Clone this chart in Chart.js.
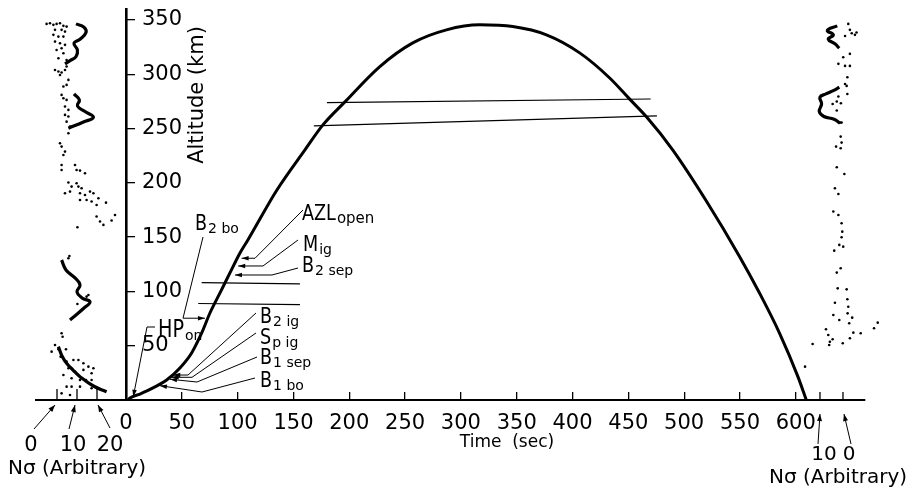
<!DOCTYPE html>
<html><head><meta charset="utf-8">
<script src="https://cdn.jsdelivr.net/npm/chart.js@4.4.0/dist/chart.umd.min.js"></script>
<style>html,body{margin:0;padding:0;background:#fff}canvas{display:block}</style>
</head><body>
<canvas id="c" width="912" height="491"></canvas>
<script>
// ---------- data ----------
const timeTicks = [0,50,100,150,200,250,300,350,400,450,500,550,600];
const altTicks = [50,100,150,200,250,300,350];
const leftNTicks = [0,10,20];
const rightNTicks = [10,0];

// rocket trajectory: time (s), altitude (km)
const trajTime = [2,3.6,12.5,24.2,36.4,48.3,58.8,67.8,75.2,84.2,93.1,102.1,109.2,135.2,160.3,176.4,196.1,227.4,256.9,287.1,316.9,346.5,376.6,406.4,433.3,451.2,466.4,489.7,520,549.7,567.6,585.5,601.9,609.4];
const trajAlt  = [0,1.8,5.5,11.1,18.4,29.5,43.3,61.7,80.1,98.6,117,135.4,147.4,193.4,230.3,253.3,274.5,307,328.8,340.8,345.4,343.8,336.2,319.6,296.5,277,260.5,230.3,183,132,98.3,61.4,21.5,0];

// thin reference lines [time, altitude]
const refLineUpper = [[180,273.8],[470,277.2]];
const refLineLower = [[168.3,252.4],[475.6,261.6]];
const refLine108 = [[67.8,108.1],[155.8,106.9]];
const refLine88 = [[64.7,88.9],[155.8,87.8]];

// ascent Nσ profile [N, altitude]
const leftDots = [[-5.2,346.3],[-3.5,346.9],[-1.8,345.4],[-0.2,346.3],[1.5,346.9],[3.2,344.5],[4.8,343.8],[-1.0,340.8],[2.3,340.8],[4.0,339.2],[-1.8,336.2],[0.7,334.6],[3.2,334.6],[-1.0,330],[1.5,328.5],[4.0,327],[-0.2,322.3],[2.3,323.9],[3.2,319.3],[0.7,314.7],[4.8,313.1],[-1.0,303.9],[0.7,302.4],[2.3,301.5],[4.0,303.9],[4.8,307],[1.5,299.3],[5.7,294.7],[3.2,288.6],[4.8,290.1],[2.3,280.9],[3.2,277.8],[4.8,276.3],[4.0,270.2],[5.7,267.1],[4.0,262.5],[5.7,261],[4.8,256.3],[6.5,251.7],[5.7,245.6],[1.5,236.4],[2.3,233.3],[4.0,228.7],[3.2,225.6],[2.3,216.4],[2.3,211.8],[9.0,216.4],[9.8,211.8],[11.5,211.2],[14.0,208.8],[5.7,200.2],[7.3,196.5],[6.5,191.9],[9.8,199.6],[10.7,196.5],[12.3,195],[4.0,190.3],[11.5,190.3],[14.0,188.8],[16.5,191.9],[18.2,190.3],[11.5,184.2],[14.8,184.2],[17.3,182.7],[20.7,185.7],[19.8,179.6],[24.5,181.7],[19.8,168.9],[21.5,164.3],[23.2,161.2],[27.3,165.2],[29.0,170.4],[10.2,159],[6.2,132.6],[5.7,130.5],[15.7,96.7],[14.8,95.2],[10.2,88.4],[2.3,61.4],[2.8,58.3],[-1.0,50.6],[0.7,46.7],[4.5,46.7],[-2.7,44.5],[1.8,39.9],[4.8,35.3],[8.2,36.8],[10.7,36.8],[13.2,33.8],[15.7,30.7],[13.2,27.7],[18.2,29.2],[17.3,24.6],[5.7,29.2],[9.0,26.1],[3.2,23.0],[7.3,20.0],[11.5,18.4],[14.5,18.4],[17.3,18.4],[4.8,12.3],[7.3,12.3],[11.5,12.3],[17.3,10.8],[2.3,6.1],[6.5,4.6]];
const leftCurve1 = [[9.5,346.3],[13.5,343.2],[14.5,338.3],[11.5,332.2],[8.5,328.5],[10.2,322.3],[9.5,316.2],[6.5,312.5],[4.0,309.5]];
const leftCurve2 = [[8.5,281.8],[11.2,276.3],[10.2,270.8],[14.0,265.6],[18.2,260.3],[13.2,256.0],[5.7,250.2]];
const leftCurve3 = [[2.3,128.9],[4.5,119.7],[9.0,112.4],[11.5,105.9],[10.0,99.5],[12.5,94.0],[16.5,90.3],[13.5,84.7],[9.5,78.3],[6.5,73.7]];
const leftCurve4 = [[24.8,7.6],[18.2,12.9],[11.5,21.5],[8.0,27.6],[4.8,33.8],[2.5,40.5],[0.7,49.1]];

// descent Nσ profile [N, altitude]
const rightDots = [[-2.3,346.3],[-3.0,340.8],[-0.9,335.2],[-3.8,337.7],[-5.2,336.2],[-5.9,338.3],[-3.0,318.7],[-0.1,315.6],[2.0,309.5],[-0.9,307.6],[-3.0,307.6],[-1.9,297.2],[-0.9,291.0],[-1.6,289.2],[-1.9,281.8],[2.0,279.4],[2.7,274.8],[4.5,272.6],[0.9,273.2],[2.7,266.5],[1.3,255.4],[0.6,255.4],[1.0,242.5],[0.6,237],[3.0,233.3],[1.0,231.8],[2.7,214.3],[-0.6,208.1],[3.5,195],[2.0,189.7],[4.2,173.5],[2.0,170.4],[0.6,162.7],[0.3,155],[0.6,149.8],[1.6,142.8],[-0.1,141.2],[3.8,137.5],[1.0,121.3],[2.7,117.3],[2.3,102.8],[-1.6,101.9],[3.5,89.6],[-1.9,92.7],[-2.3,85.9],[4.2,78.3],[-2.0,79.8],[1.6,73.7],[-4.0,75.8],[-2.7,70.6],[7.4,65.1],[-4.5,62.0],[-7.7,61.4],[6.4,59.9],[4.5,55.9],[5.7,53.7],[-3.0,56.8],[0.1,52.2],[6.0,50.7],[13.2,51.6],[-13.5,66.0],[-15.1,71.2],[16.5,30.7]];
const rightCurve1 = [[2.5,344.5],[6.8,340.2],[4.2,336.2],[6.4,332.2],[3.5,327.9],[1.6,323.9]];
const rightCurve2 = [[1.6,288],[3.5,285.5],[7.4,281.8],[10.0,278.8],[9.3,272.6],[10.3,265.6],[8.3,261],[3.9,258.5],[1.3,254.8]];

// events: arrow tips on trajectory [time, altitude]
const eventNames = ['AZL','M','B','B','HP','B','S','B','B'];
const eventSubs  = ['open','ig','2 sep','2 bo','on','2 ig','p ig','1 sep','1 bo'];
const eventTime  = [103.6,100.5,97.6,70.7,6.5,42.3,40.9,39.4,30.4];
const eventAlt   = [130.5,123.4,115.1,75.3,3.0,23,20.9,19.1,13.2];

// ---------- helpers ----------
const pairs = a => a.map(p => ({x:p[0], y:p[1]}));
const zip = (xs, ys) => xs.map((v,i) => ({x:v, y:ys[i]}));
const thin = (d) => ({type:'line', data:pairs(d), borderColor:'#000', borderWidth:1.1, pointRadius:0, clip:false, xAxisID:'x'});
const curve = (d, axis) => ({type:'line', data:pairs(d), borderColor:'#000', borderWidth:3.2, pointRadius:0, tension:0.45, clip:false, xAxisID:axis});
const dots = (d, axis) => ({type:'scatter', data:pairs(d), backgroundColor:'#000', borderWidth:0, pointRadius:1.3, showLine:false, clip:false, xAxisID:axis});

// label layout (pixels) for event annotations
const evLayout = [
  {lx:302, ly:214, path:[[303,210],[255,null]]},
  {lx:303, ly:245, path:[[298,240],[263,null]]},
  {lx:302, ly:266, path:[[298,268],[272,null]]},
  {lx:195, ly:224, path:[[203,237],[183,null]]},
  {lx:158, ly:331, big:true, path:[[155,327],[147,327]]},
  {lx:260, ly:317, path:[[256,313],[188,null]]},
  {lx:260, ly:338, path:[[256,333],[192,null]]},
  {lx:260, ly:358, path:[[257,357],[197,382]]},
  {lx:260, ly:381, path:[[255,378],[202,392]]}
];

function arrowHead(ctx, x1, y1, x2, y2, len, hw) {
  const a = Math.atan2(y2-y1, x2-x1);
  ctx.beginPath();
  ctx.moveTo(x2, y2);
  ctx.lineTo(x2 - len*Math.cos(a) + hw*Math.sin(a), y2 - len*Math.sin(a) - hw*Math.cos(a));
  ctx.lineTo(x2 - len*Math.cos(a) - hw*Math.sin(a), y2 - len*Math.sin(a) + hw*Math.cos(a));
  ctx.closePath(); ctx.fill();
}
function seg(ctx, pts) {
  ctx.beginPath(); ctx.moveTo(pts[0][0], pts[0][1]);
  for (let i=1;i<pts.length;i++) ctx.lineTo(pts[i][0], pts[i][1]);
  ctx.stroke();
}

// lets the side profiles (which lie outside the plot frame) be drawn
const fullArea = {
  id:'fullArea',
  beforeDatasetsDraw(chart) {
    chart._realArea = chart.chartArea;
    chart.chartArea = {left:0, top:0, right:chart.width, bottom:chart.height, width:chart.width, height:chart.height};
  },
  afterDatasetsDraw(chart) {
    if (chart._realArea) chart.chartArea = chart._realArea;
  }
};

const annot = {
  id:'annot',
  afterDatasetsDraw(chart) {
    const {ctx, scales:{x, y, xn, xr}} = chart;
    const y0 = y.getPixelForValue(0);
    ctx.save();
    ctx.strokeStyle = '#000'; ctx.fillStyle = '#000';
    // axis extension to the left N profile
    ctx.lineWidth = 2;
    seg(ctx, [[35, y0], [x.getPixelForValue(0), y0]]);
    // N ticks
    ctx.lineWidth = 1.3;
    leftNTicks.forEach(v => { const p = xn.getPixelForValue(v); seg(ctx, [[p,y0],[p,y0-11]]); });
    rightNTicks.forEach(v => { const p = xr.getPixelForValue(v); seg(ctx, [[p,y0],[p,y0-8]]); });
    // N tick labels and arrows
    ctx.font = '21px "DejaVu Sans"'; ctx.textAlign = 'center'; ctx.textBaseline = 'middle';
    const lpos = [31,73,110];
    const lstart = [[34,429],[69,429],[110,428]];
    leftNTicks.forEach((v,i) => {
      const p = xn.getPixelForValue(v);
      ctx.fillText(String(v), lpos[i], 446);
      ctx.lineWidth = 1;
      const sx = lstart[i][0], sy = lstart[i][1];
      const tx = p - 2 + (i===2?3:0), ty = y0 + 5;
      seg(ctx, [[sx,sy],[tx,ty]]); arrowHead(ctx, sx, sy, tx, ty, 7, 2.5);
    });
    ctx.font = '20px "DejaVu Sans"';
    const rpos = [[824,818],[849,851]];
    rightNTicks.forEach((v,i) => {
      const p = xr.getPixelForValue(v);
      ctx.fillText(String(v), rpos[i][0], 455);
      ctx.lineWidth = 1;
      const sx = rpos[i][1], sy = 444, tx = p + (i===1?1:0), ty = y0 + 14;
      seg(ctx, [[sx,sy],[tx,ty]]); arrowHead(ctx, sx, sy, tx, ty, 7, 2.5);
    });
    // axis titles
    ctx.font = '20px "DejaVu Sans"';
    ctx.fillText('N\u03c3 (Arbitrary)', 77, 469);
    ctx.fillText('N\u03c3 (Arbitrary)', 838, 478);
    ctx.font = '17px "DejaVu Sans"';
    ctx.fillText('Time  (sec)', 507, 443);
    ctx.save();
    ctx.translate(198, 95); ctx.rotate(-Math.PI/2);
    ctx.font = '21px "DejaVu Sans"';
    ctx.fillText('Altitude (km)', 0, 0);
    ctx.restore();
    // event annotations
    ctx.textAlign = 'left';
    eventNames.forEach((nm, i) => {
      const L = evLayout[i];
      const tx = x.getPixelForValue(eventTime[i]), ty = y.getPixelForValue(eventAlt[i]);
      const pts = L.path.map(p => [p[0], p[1] === null ? ty : p[1]]);
      pts.push([tx, ty]);
      ctx.lineWidth = 1;
      seg(ctx, pts);
      const a = pts[pts.length-2];
      arrowHead(ctx, a[0], a[1], tx, ty, 7, 2.3);
      const mSize = L.big ? 24 : 22;
      ctx.save();
      ctx.translate(L.lx, L.ly); ctx.scale(0.8, 1);
      ctx.font = mSize + 'px "DejaVu Sans"';
      ctx.fillText(nm, 0, 0);
      const w = ctx.measureText(nm).width * 0.8;
      ctx.restore();
      ctx.font = (eventSubs[i]==='open' ? 15 : 14) + 'px "DejaVu Sans"';
      ctx.fillText(eventSubs[i], L.lx + w + 1, L.ly + 5);
    });
    ctx.restore();
  }
};

new Chart(document.getElementById('c'), {
  data: {
    datasets: [
      {type:'line', data:zip(trajTime, trajAlt), borderColor:'#000', borderWidth:3, pointRadius:0, cubicInterpolationMode:'monotone', clip:false, xAxisID:'x'},
      thin(refLineUpper), thin(refLineLower), thin(refLine108), thin(refLine88),
      dots(leftDots, 'xn'),
      curve(leftCurve1,'xn'), curve(leftCurve2,'xn'), curve(leftCurve3,'xn'), curve(leftCurve4,'xn'),
      dots(rightDots, 'xr'),
      curve(rightCurve1,'xr'), curve(rightCurve2,'xr')
    ]
  },
  options: {
    responsive:false, animation:false, events:[],
    devicePixelRatio:1,
    layout:{padding:{left:116, right:47, top:9, bottom:51}},
    plugins:{legend:{display:false}, tooltip:{enabled:false}},
    scales:{
      x:{type:'linear', position:'bottom', min:0, max:662,
        afterFit:s=>{s.height=40; s.paddingLeft=0; s.paddingRight=0;},
        afterBuildTicks:s=>{s.ticks = timeTicks.map(v=>({value:v}));},
        grid:{drawOnChartArea:false, tickLength:-8, color:'#000', lineWidth:1.3},
        border:{display:true, color:'#000', width:2},
        ticks:{padding:19, autoSkip:false, maxRotation:0, color:'#000', font:{family:'DejaVu Sans', size:21}}
      },
      y:{type:'linear', position:'left', min:0, max:360,
        afterFit:s=>{s.width=10; s.paddingTop=0; s.paddingBottom=0;},
        afterBuildTicks:s=>{s.ticks = altTicks.map(v=>({value:v}));},
        grid:{drawOnChartArea:false, tickLength:-9, color:'#000', lineWidth:1.3},
        border:{display:true, color:'#000', width:2.6},
        ticks:{mirror:true, padding:16, color:'#000', font:{family:'DejaVu Sans', size:21}}
      },
      xn:{type:'linear', display:false, min:34.5, max:404},
      xr:{type:'linear', display:false, reverse:true, min:-9.57, max:311.7}
    }
  },
  plugins:[fullArea, annot]
});
</script>
</body></html>
